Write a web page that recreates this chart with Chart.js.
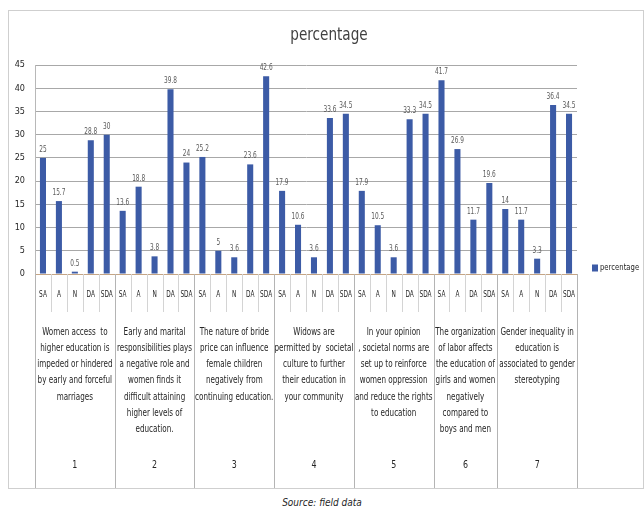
<!DOCTYPE html>
<html>
<head>
<meta charset="utf-8">
<script src="https://cdn.jsdelivr.net/npm/chart.js@4/dist/chart.umd.min.js"></script>
<style>
  html, body { margin: 0; padding: 0; background: #ffffff; }
  body { width: 644px; height: 515px; position: relative; overflow: hidden; }
  #frame {
    position: absolute; left: 8px; top: 10px;
    width: 636px; height: 479px; box-sizing: border-box;
    border: 1px solid #cfcfcf; background: #ffffff;
  }
  #chart { display: block; }
  #source {
    position: absolute; left: 0; width: 644px; top: 497px;
    text-align: center; font-style: italic;
    font-family: 'DejaVu Sans Condensed', sans-serif;
    font-size: 10px; color: #262626;
  }
</style>
</head>
<body>
<div id="frame"><canvas id="chart" width="634" height="477"></canvas></div>
<div id="source">Source: field data</div>
<script>
// Response categories (SA = strongly agree ... SDA = strongly disagree)
const categories = [
  'SA', 'A', 'N', 'DA', 'SDA',
  'SA', 'A', 'N', 'DA', 'SDA',
  'SA', 'A', 'N', 'DA', 'SDA',
  'SA', 'A', 'N', 'DA', 'SDA',
  'SA', 'A', 'N', 'DA', 'SDA',
  'SA', 'A', 'DA', 'SDA',
  'SA', 'A', 'N', 'DA', 'SDA'
];

// Share of respondents per answer, in percent
const percentage = [
  25, 15.7, 0.5, 28.8, 30,
  13.6, 18.8, 3.8, 39.8, 24,
  25.2, 5, 3.6, 23.6, 42.6,
  17.9, 10.6, 3.6, 33.6, 34.5,
  17.9, 10.5, 3.6, 33.3, 34.5,
  41.7, 26.9, 11.7, 19.6,
  14, 11.7, 3.3, 36.4, 34.5
];

// How many answer categories belong to each statement
const groupSizes = [5, 5, 5, 5, 5, 4, 5];
const groupNumbers = ['1', '2', '3', '4', '5', '6', '7'];
const groupStatements = [
  ['Women access  to', 'higher education is', 'impeded or hindered', 'by early and forceful', 'marriages'],
  ['Early and marital', 'responsibilities plays', 'a negative role and', 'women finds it', 'difficult attaining', 'higher levels of', 'education.'],
  ['The nature of bride', 'price can influence', 'female children', 'negatively from', 'continuing education.'],
  ['Widows are', 'permitted by  societal', 'culture to further', 'their education in', 'your community'],
  ['In your opinion', ', societal norms are', 'set up to reinforce', 'women oppression', 'and reduce the rights', 'to education'],
  ['The organization', 'of labor affects', 'the education of', 'girls and women', 'negatively', 'compared to', 'boys and men'],
  ['Gender inequality in', 'education is', 'associated to gender', 'stereotyping']
];

const chartTitle = 'percentage';

const FONT = "'DejaVu Sans Condensed', 'Liberation Sans', sans-serif";
const BAR_COLOR = '#3c5ba6';

// text squeezed horizontally, the way a narrow face sets it
function narrowText(ctx, text, x, y, squeeze) {
  ctx.save();
  ctx.translate(x, y);
  ctx.scale(squeeze, 1);
  ctx.fillText(text, 0, 0);
  ctx.restore();
}

// Title, value labels, two-level category axis and legend
const annotate = {
  id: 'annotate',
  afterDatasetsDraw(chart) {
    const ctx = chart.ctx;
    const meta = chart.getDatasetMeta(0);
    ctx.save();
    ctx.font = '9px ' + FONT;
    ctx.fillStyle = '#595959';
    ctx.textAlign = 'center';
    ctx.textBaseline = 'bottom';
    meta.data.forEach((bar, i) => {
      narrowText(ctx, String(percentage[i]), bar.x, bar.y - 4, 0.72);
    });
    ctx.restore();
  },
  afterDraw(chart) {
    const { ctx, chartArea: area, scales: { x } } = chart;
    const step = x.getPixelForValue(1) - x.getPixelForValue(0);
    const edge = i => x.getPixelForValue(i) - step / 2;

    const groupEdges = [0];
    groupSizes.forEach(n => groupEdges.push(groupEdges[groupEdges.length - 1] + n));

    ctx.save();

    // title
    ctx.fillStyle = '#404040';
    ctx.textAlign = 'center';
    ctx.textBaseline = 'middle';
    ctx.font = '18px ' + FONT;
    narrowText(ctx, chartTitle, chart.width / 2 + 3, 24, 0.84);

    // category dividers
    ctx.lineWidth = 1;
    for (let i = 0; i <= categories.length; i++) {
      const px = Math.round(edge(i)) + 0.5;
      const isGroupEdge = groupEdges.includes(i);
      ctx.strokeStyle = isGroupEdge ? '#b4b4b4' : '#d4d4d4';
      ctx.beginPath();
      ctx.moveTo(px, area.bottom);
      ctx.lineTo(px, isGroupEdge ? chart.height : area.bottom + 38);
      ctx.stroke();
    }

    // answer category labels
    ctx.fillStyle = '#262626';
    ctx.font = '9px ' + FONT;
    categories.forEach((c, i) => {
      narrowText(ctx, c, x.getPixelForValue(i), area.bottom + 21, 0.72);
    });

    // statements and their numbers
    groupSizes.forEach((n, g) => {
      const cx = (edge(groupEdges[g]) + edge(groupEdges[g + 1])) / 2;
      ctx.font = '10px ' + FONT;
      groupStatements[g].forEach((line, k) => {
        narrowText(ctx, line, cx, area.bottom + 58 + k * 16.3, 0.8);
      });
      ctx.font = '11px ' + FONT;
      narrowText(ctx, groupNumbers[g], cx, area.bottom + 191, 0.8);
    });

    // legend
    const ds = chart.data.datasets[0];
    const lx = area.right + 15;
    const ly = area.bottom - 6;
    ctx.fillStyle = BAR_COLOR;
    ctx.fillRect(lx, ly - 3.5, 6, 7);
    ctx.fillStyle = '#262626';
    ctx.textAlign = 'left';
    ctx.font = '9px ' + FONT;
    narrowText(ctx, ds.label, lx + 8, ly, 0.85);
    ctx.restore();
  }
};

new Chart(document.getElementById('chart'), {
  type: 'bar',
  data: {
    labels: categories,
    datasets: [{
      label: 'percentage',
      data: percentage,
      backgroundColor: BAR_COLOR,
      borderWidth: 0,
      categoryPercentage: 1,
      barPercentage: 0.38
    }]
  },
  options: {
    responsive: false,
    animation: false,
    devicePixelRatio: 1,
    layout: { padding: { top: 54, right: 66, bottom: 0, left: 0 } },
    plugins: {
      legend: { display: false },
      tooltip: { enabled: false },
      title: { display: false }
    },
    scales: {
      x: {
        offset: true,
        grid: { display: false, drawTicks: false },
        border: { display: true, color: '#c5a585', width: 1 },
        ticks: { display: false },
        afterFit(scale) { scale.height = 214; }
      },
      y: {
        min: 0, max: 45,
        ticks: {
          stepSize: 5, padding: 10,
          color: '#262626',
          font: { family: FONT, size: 9 }
        },
        grid: { color: '#a8a8a8', drawTicks: false },
        border: { display: true, color: '#b8b8b8' },
        afterFit(scale) { scale.width = 26; }
      }
    }
  },
  plugins: [annotate]
});
</script>
</body>
</html>
